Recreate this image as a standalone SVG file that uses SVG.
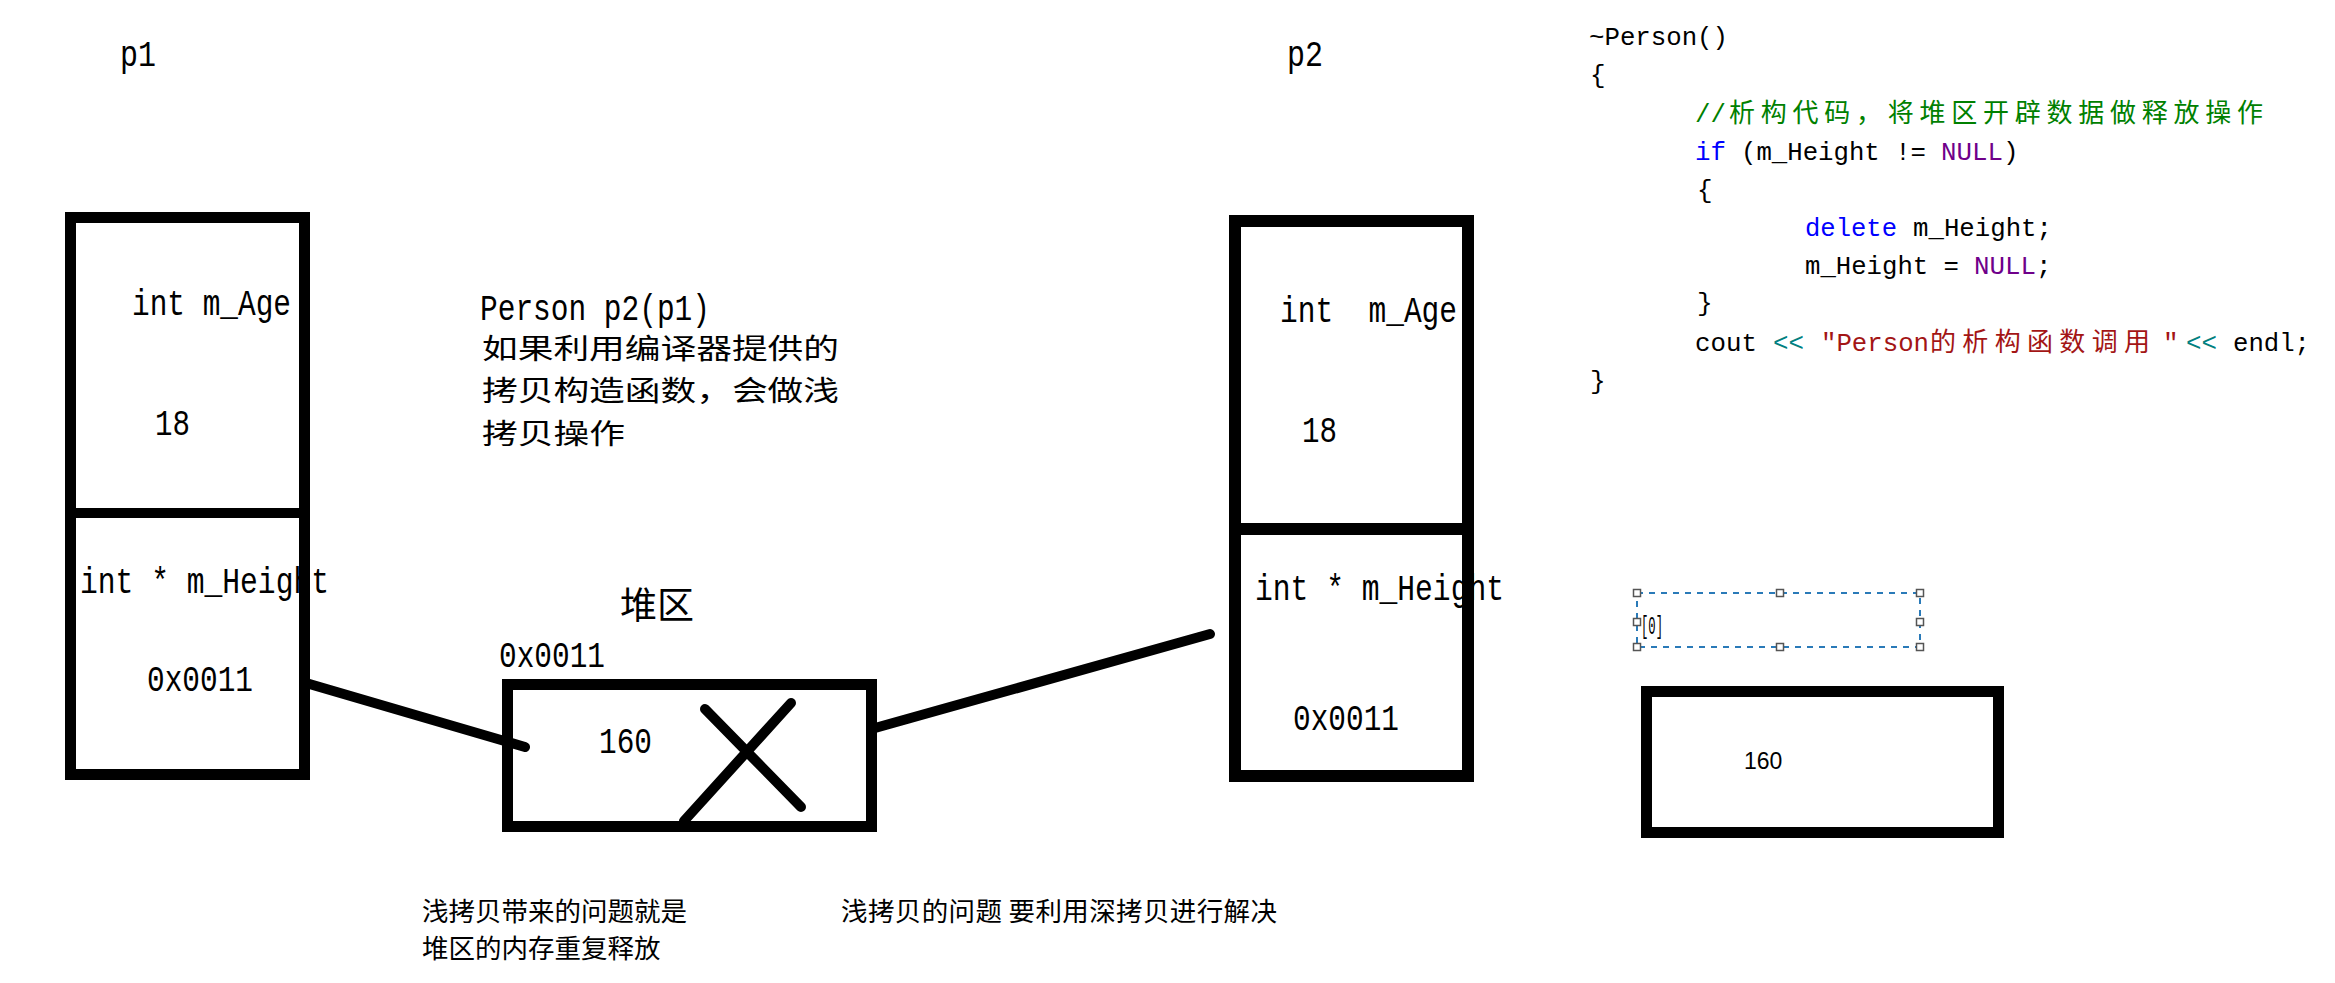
<svg xmlns="http://www.w3.org/2000/svg" width="2335" height="983" viewBox="0 0 2335 983">
<style>
.m{font-family:"Liberation Mono","Courier New",monospace;font-size:36px;fill:#000;white-space:pre}
.c{font-family:"Liberation Mono","Courier New",monospace;font-size:26px;fill:#000;white-space:pre}
.cj{font-family:"Noto Sans CJK SC","Noto Sans",sans-serif;fill:#000;white-space:pre}
.box{fill:none;stroke:#000;stroke-width:11}
.thick{fill:none;stroke:#000;stroke-width:10;stroke-linecap:round}
.kw{fill:#0000ff}.nl{fill:#6f008a}.op{fill:#008080}.st{fill:#a31515}.cm{fill:#008000}
.h{fill:#fff;stroke:#555;stroke-width:1.5}
</style>
<rect width="2335" height="983" fill="#fff"/>

<g id="label-p1"><text class="m" x="120" y="66" textLength="36" lengthAdjust="spacingAndGlyphs">p1</text></g>
<g id="label-p2"><text class="m" x="1287" y="66" textLength="36" lengthAdjust="spacingAndGlyphs">p2</text></g>

<g id="node-p1">
<text class="m" x="132" y="315" textLength="159" lengthAdjust="spacingAndGlyphs">int m_Age</text>
<text class="m" x="155" y="435" textLength="35" lengthAdjust="spacingAndGlyphs">18</text>
<text class="m" x="80" y="593" textLength="249" lengthAdjust="spacingAndGlyphs">int * m_Height</text>
<text class="m" x="147" y="691" textLength="106" lengthAdjust="spacingAndGlyphs">0x0011</text>
<rect class="box" x="70.5" y="217.5" width="234" height="557"/>
<line x1="70" y1="513" x2="305" y2="513" stroke="#000" stroke-width="10"/>
</g>

<g id="node-p2">
<text class="m" x="1280" y="322" textLength="177" lengthAdjust="spacingAndGlyphs">int  m_Age</text>
<text class="m" x="1302" y="442" textLength="35" lengthAdjust="spacingAndGlyphs">18</text>
<text class="m" x="1255" y="600" textLength="249" lengthAdjust="spacingAndGlyphs">int * m_Height</text>
<text class="m" x="1293" y="730" textLength="106" lengthAdjust="spacingAndGlyphs">0x0011</text>
<rect x="1235" y="221" width="233" height="555" fill="none" stroke="#000" stroke-width="12"/>
<line x1="1229" y1="529" x2="1474" y2="529" stroke="#000" stroke-width="12"/>
</g>

<g id="note-copy">
<text class="m" x="480" y="320" font-size="33" textLength="230" lengthAdjust="spacingAndGlyphs">Person p2(p1)</text>
<text class="cj" x="482" y="359" font-size="28" textLength="357" lengthAdjust="spacingAndGlyphs">如果利用编译器提供的</text>
<text class="cj" x="482" y="401" font-size="28" textLength="357" lengthAdjust="spacingAndGlyphs">拷贝构造函数，会做浅</text>
<text class="cj" x="482" y="444" font-size="28" textLength="143" lengthAdjust="spacingAndGlyphs">拷贝操作</text>
</g>

<g id="node-heap">
<text class="cj" x="620" y="619" font-size="37">堆区</text>
<text class="m" x="499" y="667" textLength="106" lengthAdjust="spacingAndGlyphs">0x0011</text>
<text class="m" x="599" y="753" font-size="38" textLength="53" lengthAdjust="spacingAndGlyphs">160</text>
<rect class="box" x="507.5" y="684.5" width="364" height="142"/>
<line class="thick" x1="705" y1="709" x2="801" y2="807"/>
<line class="thick" x1="791" y1="703" x2="684" y2="821"/>
</g>

<g id="connectors">
<path class="thick" d="M306,683 L525,747"/>
<path class="thick" d="M875,728 L1210,634"/>
</g>

<g id="code">
<text class="c" x="1589" y="45" textLength="139" lengthAdjust="spacingAndGlyphs">~Person()</text>
<text class="c" x="1590" y="83">{</text>
<text class="c cm" x="1695" y="122" textLength="31" lengthAdjust="spacingAndGlyphs">//</text>
<text class="cj cm" x="1729" y="122" font-size="26" textLength="534">析构代码，将堆区开辟数据做释放操作</text>
<text class="c kw" x="1695" y="160" textLength="31" lengthAdjust="spacingAndGlyphs">if</text>
<text class="c" x="1741" y="160" textLength="185" lengthAdjust="spacingAndGlyphs">(m_Height !=</text>
<text class="c nl" x="1941" y="160" textLength="62" lengthAdjust="spacingAndGlyphs">NULL</text>
<text class="c" x="2003" y="160">)</text>
<text class="c" x="1697" y="198">{</text>
<text class="c kw" x="1805" y="236" textLength="92" lengthAdjust="spacingAndGlyphs">delete</text>
<text class="c" x="1913" y="236" textLength="139" lengthAdjust="spacingAndGlyphs">m_Height;</text>
<text class="c" x="1805" y="274" textLength="154" lengthAdjust="spacingAndGlyphs">m_Height =</text>
<text class="c nl" x="1974" y="274" textLength="62" lengthAdjust="spacingAndGlyphs">NULL</text>
<text class="c" x="2036" y="274">;</text>
<text class="c" x="1697" y="311">}</text>
<text class="c" x="1695" y="351" textLength="62" lengthAdjust="spacingAndGlyphs">cout</text>
<text class="c op" x="1773" y="351" textLength="31" lengthAdjust="spacingAndGlyphs">&lt;&lt;</text>
<text class="c st" x="1821" y="351" textLength="108" lengthAdjust="spacingAndGlyphs">"Person</text>
<text class="cj st" x="1930" y="351" font-size="26" textLength="220">的析构函数调用</text>
<text class="c st" x="2163" y="351">"</text>
<text class="c op" x="2186" y="351" textLength="31" lengthAdjust="spacingAndGlyphs">&lt;&lt;</text>
<text class="c" x="2233" y="351" textLength="77" lengthAdjust="spacingAndGlyphs">endl;</text>
<text class="c" x="1590" y="389">}</text>
</g>

<g id="selection-box">
<rect x="1637" y="593" width="283" height="54" fill="none" stroke="#2a7ab8" stroke-width="2" stroke-dasharray="6,6"/>
<text class="c" x="1641" y="634" font-size="30" textLength="22" lengthAdjust="spacingAndGlyphs">[0]</text>
<rect class="h" x="1633.5" y="589.5" width="7" height="7"/>
<rect class="h" x="1776.5" y="589.5" width="7" height="7"/>
<rect class="h" x="1916.5" y="589.5" width="7" height="7"/>
<rect class="h" x="1633.5" y="618.5" width="7" height="7"/>
<rect class="h" x="1916.5" y="618.5" width="7" height="7"/>
<rect class="h" x="1633.5" y="643.5" width="7" height="7"/>
<rect class="h" x="1776.5" y="643.5" width="7" height="7"/>
<rect class="h" x="1916.5" y="643.5" width="7" height="7"/>
</g>

<g id="node-160">
<rect class="box" x="1646.5" y="691.5" width="352" height="141"/>
<text x="1744" y="769" font-family="Liberation Sans, Arial, sans-serif" font-size="23" fill="#000">160</text>
</g>

<g id="notes-bottom">
<text class="cj" x="422" y="921" font-size="26.5">浅拷贝带来的问题就是</text>
<text class="cj" x="422" y="958" font-size="26.5">堆区的内存重复释放</text>
<text class="cj" x="841" y="921" font-size="26.5" textLength="436">浅拷贝的问题 要利用深拷贝进行解决</text>
</g>
</svg>
